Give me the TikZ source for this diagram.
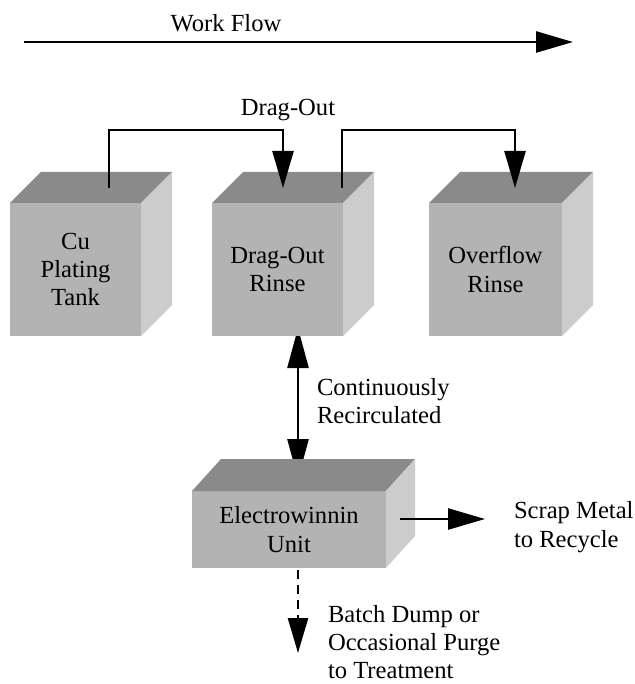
\documentclass[tikz,border=0pt]{standalone}
\usepackage{fontspec}
\setmainfont{Liberation Serif}
\usetikzlibrary{arrows.meta,calc}
\pgfdeclarelayer{back}
\pgfsetlayers{back,main}
\definecolor{facefront}{RGB}{179,179,179}
\definecolor{facetop}{RGB}{138,138,138}
\definecolor{faceside}{RGB}{204,204,204}

% A tank drawn as a shaded block: front face (a named node), top face and side face.
% #1 name, #2 #3 centre of the front face, #4 #5 width and height, #6 #7 depth offset, #8 label
\newcommand\tankbox[8]{%
  \node[tankfront, minimum width=#4pt, minimum height=#5pt] (#1) at (#2,#3) {#8};
  \fill[facetop] (#1.north west) -- (#1.north east) -- ++(#6,-#7)
    -- ($(#1.north west)+(#6,-#7)$) -- cycle;
  \fill[faceside] (#1.north east) -- ++(#6,-#7)
    -- ($(#1.south east)+(#6,-#7)$) -- (#1.south east) -- cycle;
}

\begin{document}
\begin{tikzpicture}[x=1pt, y=-1pt,
  txt/.style={font=\fontsize{24.6}{28.4}\selectfont, inner sep=0pt, outer sep=0pt},
  lbl/.style={txt},
  tankfront/.style={txt, fill=facefront, align=center},
  flow/.style={line width=2.6pt, -{Triangle[length=37pt,width=21pt]}},
  twoway/.style={line width=2.6pt, {Triangle[length=40pt,width=21pt]}-{Triangle[length=40pt,width=21pt]}},
  purge/.style={line width=2.6pt, dash pattern=on 9pt off 6pt, -{Triangle[length=35pt,width=20pt]}}
]
\path[use as bounding box] (0,0) rectangle (634,684);

% work flow direction
\node[lbl] (wflabel) at (226,23) {Work Flow};
\coordinate (wfstart) at (24,42);
\coordinate (wfend) at (573,42);
\draw[flow] (wfstart) -- (wfend);

% process tanks
\tankbox{cu}{75.5}{269.5}{131}{133}{31}{31}{Cu\\Plating\\Tank}
\tankbox{dor}{277.5}{269.5}{131}{133}{31}{31}{Drag-Out\\Rinse}
\tankbox{ovr}{495.5}{269.5}{133}{133}{31}{31}{Overflow\\Rinse}
\tankbox{ew}{289}{529.5}{194}{77}{29}{32}{Electrowinnin\\Unit}

% drag-out transfers over the tops of the tanks
\node[lbl] (dolabel) at (288,110) {Drag-Out};
\draw[flow] ($(cu.north)+(33.5,-15)$) -- ++(0,-58) -| ($(dor.north)+(5.5,-15)$);
\draw[flow] ($(dor.north)+(64.5,-15)$) -- ++(0,-58) -| ($(ovr.north)+(19.5,-15)$);

% recirculation loop, tips tucked behind the tank faces
\begin{pgfonlayer}{back}
  \draw[twoway] ($(dor.south)+(20.5,-8)$) -- ($(ew.north)+(9,-12)$);
\end{pgfonlayer}
\node[lbl, align=left, anchor=west] (recirc) at (317,401) {Continuously\\Recirculated};

% outputs of the electrowinning unit
\node[lbl, align=left, anchor=west] (scrap) at (514,527) {Scrap Metal\\to Recycle};
\coordinate (scrapend) at (485,519);
\draw[flow] ($(ew.east)+(14,-10.5)$) -- (scrapend);

\node[lbl, align=left, anchor=west] (dump) at (328,642) {Batch Dump or\\Occasional Purge\\to Treatment};
\coordinate (dumpend) at (298,653);
\draw[purge] ($(ew.south)+(9,2)$) -- (dumpend);
\end{tikzpicture}
\end{document}
